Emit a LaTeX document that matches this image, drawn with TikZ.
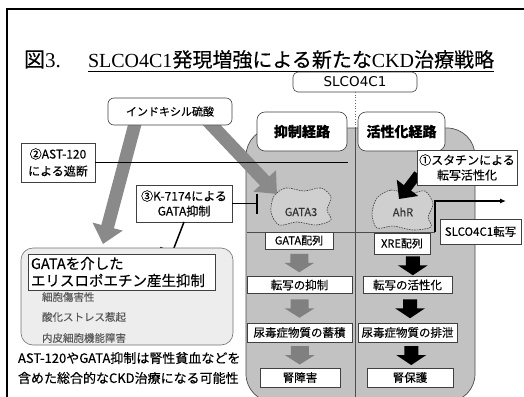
\documentclass[tikz,border=0pt]{standalone}
\usepackage{fontspec}
\setmainfont{Noto Sans CJK JP}[FakeBold=0.35]
\newfontfamily\serifl{Liberation Serif}
\newfontfamily\dvs{DejaVu Sans}
\usetikzlibrary{arrows.meta,calc}
\definecolor{stip}{HTML}{C2C2C2}
\definecolor{blobfill}{HTML}{CFCFCF}
\definecolor{gatafill}{HTML}{EDEDED}
\definecolor{arrgray}{HTML}{8A8A8A}
\definecolor{blkarr}{HTML}{808080}
\tikzset{
  garrowpic/.pic={\fill[blkarr] (-9,-9) -- (9,-9) -- (9,0) -- (15,0) -- (0,9.5) -- (-15,0) -- (-9,0) -- cycle;},
  barrowpic/.pic={\fill[black] (-7,-9) -- (7,-9) -- (7,0) -- (15,0) -- (0,10) -- (-15,0) -- (-7,0) -- cycle;}
}
\begin{document}
\begin{tikzpicture}[x=1pt,y=-1pt,
  every node/.style={inner sep=0pt, outer sep=0pt},
  wbox/.style={draw=black!75, fill=white, line width=0.6pt, align=center},
  rwbox/.style={wbox, rounded corners=5pt},
  hdrbox/.style={wbox, rounded corners=8pt, font=\fontsize{14}{16}\selectfont\bfseries},
  flowbox/.style={wbox, font=\fontsize{11.5}{13}\selectfont},
  bigarrow/.style={draw=arrgray, line width=13pt, -{Triangle[width=30pt,length=18pt]}},
  blobline/.style={draw=black!75, dash pattern=on 1.6pt off 1pt, line width=0.6pt, fill=blobfill},
  inhib/.style={line width=1.5pt}
]
\useasboundingbox (0,0) rectangle (524,396);
\clip (0,0) rectangle (524,396);
\fill[white] (0,0) rectangle (524,396);
% outer frame
\draw[line width=1.4pt] (7,410) -- (7,9) -- (540,9);
% title
\node[anchor=base west] (zu) at (24,67) {\fontsize{21}{24}\selectfont 図{\serifl 3.}};
\node[anchor=base west] (title) at (88,67) {\fontsize{20}{24}\selectfont{\serifl SLCO4C1}発現増強による新たな{\serifl CKD}治療戦略};
\draw[line width=0.8pt] ([yshift=-4.5pt]title.base west) -- ([yshift=-4.5pt]title.base east);
% SLCO4C1 header
\node[rwbox, minimum width=124pt, minimum height=20pt, font=\dvs\fontsize{13.5}{15}\selectfont] (slco) at (355,82) {SLCO4C1};
\coordinate (divtop) at (355,128);
\coordinate (divbot) at (355,402);
\draw[black!60, dotted, line width=0.7pt] (slco.south) -- (divtop);
% big stippled shape
\path[draw=black!70, line width=0.7pt, fill=stip, rounded corners=28pt] (246,128) rectangle (475,402);
\draw[black!70, line width=0.6pt] (divtop) -- (divbot);
\coordinate (hlL) at (247,232);
\coordinate (hlR) at (435,232);
\draw[black!70, line width=0.6pt] (hlL) -- (hlR);
% blobs
\draw[blobline] plot[smooth cycle] coordinates {(274,196) (286,188) (304,191) (321,188) (331,197) (327,210) (331,220) (316,225) (297,222) (279,225) (271,212)};
\node[font=\fontsize{11}{13}\selectfont, text=black!80] (gata3) at (301,212) {GATA3};
\draw[blobline] plot[smooth cycle] coordinates {(377,198) (391,190) (409,194) (425,191) (433,204) (428,217) (431,227) (413,230) (393,226) (377,228) (372,214)};
\node[font=\fontsize{11}{13}\selectfont, text=black!80] (ahr) at (403,212) {AhR};
% big gray arrows
\coordinate (ga1s) at (136,120);
\coordinate (ga1e) at (103,244);
\coordinate (ga2s) at (205,118);
\coordinate (ga2e) at (277,194);
\draw[bigarrow] (ga1s) -- (ga1e);
\draw[bigarrow] (ga2s) -- (ga2e);
% pathway headers
\node[hdrbox, minimum width=90pt, minimum height=39pt] (yoku) at (302,131.5) {抑制経路};
\node[hdrbox, minimum width=87pt, minimum height=39pt] (kass) at (401.5,131.5) {活性化経路};
% indoxyl sulfate
\node[rwbox, rounded corners=6pt, minimum width=124pt, minimum height=27pt, font=\fontsize{11}{13}\selectfont] (indox) at (170,111.5) {インドキシル硫酸};
% AST-120
\coordinate (astend) at (348,162.5);
\node[wbox, minimum width=74pt, minimum height=39pt, font=\fontsize{12}{17}\selectfont] (ast) at (58,162.5) {②AST-120\\による遮断};
\draw[inhib] (ast.east) -- (astend);
% K-7174
\node[wbox, minimum width=96pt, minimum height=37pt, font=\fontsize{12}{15}\selectfont] (k7174) at (184,203.5) {③K-7174による\\GATA抑制};
\coordinate (kbar1) at (258,203.5);
\coordinate (kbar2) at (172,253);
\draw[inhib, -{Bar[width=20pt,line width=1.6pt]}] (k7174.east) -- (kbar1);
\draw[inhib, -{Bar[width=26pt,line width=1.6pt]}] (k7174.south) -- (kbar2);
% statin
\coordinate (sta) at (418,174);
\coordinate (stb) at (399,199);
\draw[line width=9pt, -{Triangle[width=26pt,length=14pt]}] (sta) -- (stb);
\node[wbox, minimum width=100pt, minimum height=35pt, font=\fontsize{12}{15}\selectfont] (statin) at (467,167.5) {①スタチンによる\\転写活性化};
% SLCO4C1 transcription
\coordinate (tup) at (435,201);
\coordinate (tend) at (506,201);
\draw[line width=1.1pt, -{Latex[length=6pt,width=5pt]}] (hlR) -- (tup) -- (tend);
\node[wbox, minimum width=81pt, minimum height=25pt, font=\fontsize{11.5}{13}\selectfont] (slcot) at (480.5,231.5) {SLCO4C1転写};
% flow left
\node[flowbox, minimum width=68pt, minimum height=17pt, font=\fontsize{11}{13}\selectfont] (gseq) at (299,240.5) {GATA配列};
\node[flowbox, minimum width=105pt, minimum height=17pt] (tyoku) at (299.5,285) {転写の抑制};
\node[flowbox, minimum width=105pt, minimum height=19pt] (chiku) at (299.5,332.5) {尿毒症物質の蓄積};
\node[flowbox, minimum width=80pt, minimum height=19pt] (jsho) at (300,377.5) {腎障害};
\pic at ($(gseq.south)!0.5!(tyoku.north)$) {garrowpic};
\pic at ($(tyoku.south)!0.5!(chiku.north)$) {garrowpic};
\pic at ($(chiku.south)!0.5!(jsho.north)$) {garrowpic};
% flow right
\node[flowbox, minimum width=56pt, minimum height=21pt, font=\fontsize{11}{13}\selectfont] (xre) at (402,243.5) {XRE配列};
\node[flowbox, minimum width=89pt, minimum height=17pt] (tkass) at (407.5,285) {転写の活性化};
\node[flowbox, minimum width=99pt, minimum height=19pt] (haise) at (407.5,332.5) {尿毒症物質の排泄};
\node[flowbox, minimum width=86pt, minimum height=19pt] (jhogo) at (410,377.5) {腎保護};
\pic at ($(xre.south)!0.5!(tkass.north)+(8,0)$) {barrowpic};
\pic at ($(tkass.south)!0.5!(haise.north)+(2.5,0)$) {barrowpic};
\pic at ($(haise.south)!0.5!(jhogo.north)+(2.5,0)$) {barrowpic};
% GATA region
\node[draw=black!55, line width=0.6pt, fill=gatafill, rounded corners=12pt, minimum width=212pt, minimum height=97pt] (gatareg) at (127,296.5) {};
\node[wbox, minimum width=187pt, minimum height=36pt] (epo) at (121.5,272) {};
\node[anchor=west, align=left, font=\fontsize{14.5}{17}\selectfont] (epot) at (31,272) {GATAを介した\\エリスロポエチン産生抑制};
\node[anchor=west, text=black!65, font=\fontsize{10.5}{12}\selectfont] (l1) at (42,297) {細胞傷害性};
\node[anchor=west, text=black!65, font=\fontsize{10.5}{12}\selectfont] (l2) at (42,317) {酸化ストレス惹起};
\node[anchor=west, text=black!65, font=\fontsize{10.5}{12}\selectfont] (l3) at (42,338) {内皮細胞機能障害};
% note
\node[anchor=west, align=left, font=\fontsize{13}{20}\selectfont] (note) at (18,368) {AST-120やGATA抑制は腎性貧血などを\\含めた総合的なCKD治療になる可能性};
\end{tikzpicture}
\end{document}
